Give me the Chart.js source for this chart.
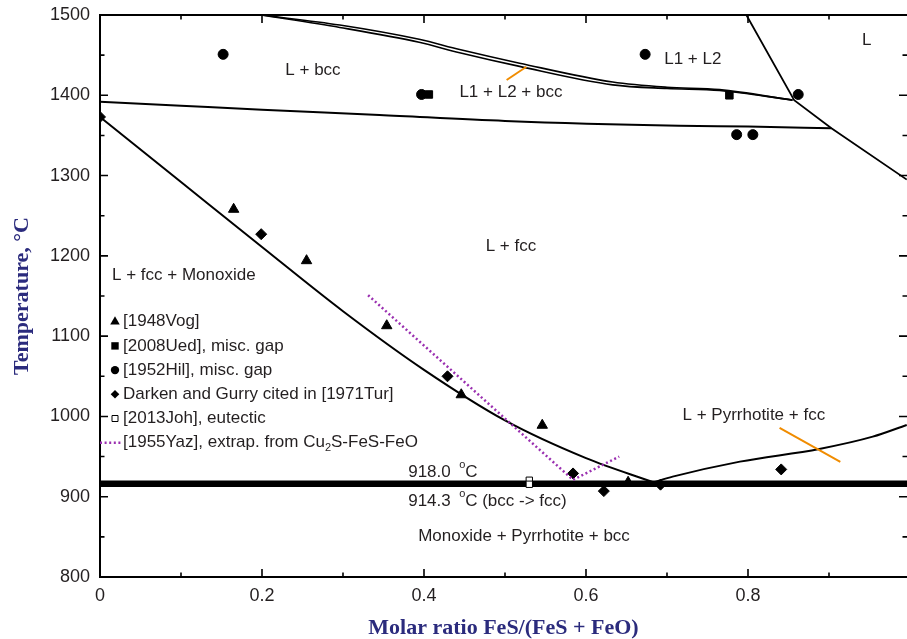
<!DOCTYPE html>
<html>
<head>
<meta charset="utf-8">
<title>FeS-FeO phase diagram</title>
<script src="https://cdn.jsdelivr.net/npm/chart.js@4.4.1/dist/chart.umd.min.js"></script>
<style>
  html, body { margin: 0; padding: 0; background: #fff; }
  canvas { display: block; }
</style>
</head>
<body>
<canvas id="diagram" width="907" height="639"></canvas>
<script>
// x = FeS/(FeS + FeO) molar ratio, T in degrees C

// fcc liquidus, from pure FeO side down to the eutectic
var fccLiqX = [0, 0.1, 0.2, 0.3, 0.4, 0.5, 0.6, 0.683];
var fccLiqT = [1373, 1292, 1211, 1131, 1058, 995, 948, 918];

// bcc -> fcc boundary under the liquid
var bccLineX = [0, 0.1, 0.2, 0.345, 0.5, 0.715, 0.8, 0.903];
var bccLineT = [1392, 1387, 1382, 1375.5, 1368, 1362, 1361, 1359];

// miscibility gap, the two close boundaries of L1 + L2 + bcc
var gapX = [0.199, 0.296, 0.394, 0.444, 0.518, 0.633, 0.7, 0.765, 0.855];
var gapUpperT = [1500, 1487.5, 1469.7, 1457, 1440, 1416.5, 1410, 1407, 1394];
var gapLowerT = [1500, 1484.5, 1466, 1453, 1436, 1413, 1408.5, 1406, 1394];

// liquid boundary on the FeS rich side
var rightX = [0.798, 0.857, 0.903, 0.996];
var rightT = [1500, 1394, 1359, 1295];

// pyrrhotite liquidus
var pyrrX = [0.683, 0.707, 0.79, 0.888, 0.954, 0.996];
var pyrrT = [918, 925, 943.7, 959.5, 974.8, 989.4];

// invariant lines
var eutecticX = [0, 0.9963];
var eutecticT = 918.0;
var bccFccT = 914.3;

// region pointers
var tieAX = [0.502, 0.5265];
var tieAT = [1419, 1435.5];
var tieBX = [0.839, 0.914];
var tieBT = [985.7, 943.3];

// experimental points
var vogX = [0.165, 0.255, 0.354, 0.446, 0.546, 0.652];
var vogT = [1258, 1194, 1113, 1027, 989, 918];
var uedX = [0.406, 0.777];
var uedT = [1401, 1400];
var hilX = [0.152, 0.397, 0.673, 0.786, 0.806, 0.862];
var hilT = [1451, 1401, 1451, 1351, 1351, 1401];
var dgX = [0, 0.199, 0.429, 0.584, 0.622, 0.692, 0.841];
var dgT = [1373, 1227, 1050, 929, 907, 915, 934];
var johX = [0.53, 0.53];
var johT = [920.5, 915.5];
var yazX = [0.331, 0.584, 0.641];
var yazT = [1151, 921, 950];

// axis ticks
var xTickValues = [0, 0.2, 0.4, 0.6, 0.8];
var xMinorValues = [0.1, 0.3, 0.5, 0.7, 0.9];
var yTickValues = [800, 900, 1000, 1100, 1200, 1300, 1400, 1500];
var yMinorValues = [850, 950, 1050, 1150, 1250, 1350, 1450];

var sansFont = "'Liberation Sans', Arial, sans-serif";
var serifFont = "'Liberation Serif', 'Times New Roman', serif";
var textColor = "#231f20";
var titleColor = "#2b2b7d";
var purple = "#9a2fb0";
var orange = "#f08c00";

function pts(xs, ts) {
  return xs.map(function (x, i) {
    return { x: x, y: Array.isArray(ts) ? ts[i] : ts };
  });
}

function curve(xs, ts, width, smooth) {
  return {
    data: pts(xs, ts),
    borderColor: "#000",
    borderWidth: width,
    pointRadius: 0,
    fill: false,
    cubicInterpolationMode: smooth ? "monotone" : "default",
    order: 5,
  };
}

function markers(xs, ts, style, radius, fill) {
  return {
    data: pts(xs, ts),
    showLine: false,
    pointStyle: style,
    pointRadius: radius,
    pointBackgroundColor: fill,
    pointBorderColor: "#000",
    pointBorderWidth: 1,
    order: 2,
  };
}

// no extra room around the plot, the frame is placed by layout padding only
function fixBox(scale) {
  scale.paddingLeft = 0;
  scale.paddingRight = 0;
  scale.paddingTop = 0;
  scale.paddingBottom = 0;
}

var regionLabels = [
  { text: "L + bcc", x: 0.2629, t: 1431.5, align: "center" },
  { text: "L1 + L2", x: 0.7319, t: 1445.2, align: "center" },
  { text: "L1 + L2 + bcc", x: 0.5073, t: 1404.1, align: "center" },
  { text: "L", x: 0.9467, t: 1468.9, align: "center" },
  { text: "L + fcc", x: 0.5073, t: 1212.3, align: "center" },
  { text: "L + fcc + Monoxide", x: 0.0148, t: 1175.3, align: "left" },
  { text: "L + Pyrrhotite + fcc", x: 0.8072, t: 1001.8, align: "center" },
  { text: "Monoxide + Pyrrhotite + bcc", x: 0.5235, t: 850.2, align: "center" },
];

var tempLabels = [
  { value: "918.0", rest: "C", x: 0.3805, t: 930.4 },
  { value: "914.3", rest: "C (bcc -> fcc)", x: 0.3805, t: 894.7 },
];

var legendItems = [
  { style: "triangle", text: "[1948Vog]" },
  { style: "rect", text: "[2008Ued], misc. gap" },
  { style: "circle", text: "[1952Hil], misc. gap" },
  { style: "rectRot", text: "Darken and Gurry cited in [1971Tur]" },
  { style: "openRect", text: "[2013Joh], eutectic" },
  { style: "dots", text: "[1955Yaz], extrap. from Cu", sub: "2", after: "S-FeS-FeO" },
];

function drawSymbol(ctx, style, x, y) {
  ctx.beginPath();
  ctx.fillStyle = "#000";
  ctx.strokeStyle = "#000";
  ctx.lineWidth = 1;
  if (style === "triangle") {
    var r = 5.5;
    ctx.moveTo(x, y - r);
    ctx.lineTo(x + r * 0.866, y + r / 2);
    ctx.lineTo(x - r * 0.866, y + r / 2);
    ctx.closePath();
    ctx.fill();
  } else if (style === "rect") {
    ctx.rect(x - 3.7, y - 3.7, 7.4, 7.4);
    ctx.fill();
  } else if (style === "circle") {
    ctx.arc(x, y, 4.2, 0, Math.PI * 2);
    ctx.fill();
  } else if (style === "rectRot") {
    ctx.moveTo(x, y - 4.3);
    ctx.lineTo(x + 4.3, y);
    ctx.lineTo(x, y + 4.3);
    ctx.lineTo(x - 4.3, y);
    ctx.closePath();
    ctx.fill();
  } else if (style === "openRect") {
    ctx.fillStyle = "#fff";
    ctx.rect(x - 3, y - 3, 6, 6);
    ctx.fill();
    ctx.stroke();
  } else if (style === "dots") {
    ctx.strokeStyle = purple;
    ctx.lineWidth = 2.5;
    ctx.setLineDash([2, 2.6]);
    ctx.moveTo(x - 15, y);
    ctx.lineTo(x + 7, y);
    ctx.stroke();
    ctx.setLineDash([]);
  }
}

// frame with inward ticks, region names and the legend
var decorations = {
  id: "decorations",
  afterDraw: function (chart) {
    var ctx = chart.ctx;
    var area = chart.chartArea;
    var xs = chart.scales.x;
    var ys = chart.scales.y;

    ctx.save();
    ctx.strokeStyle = "#000";
    ctx.lineWidth = 2;
    ctx.beginPath();
    ctx.moveTo(area.left - 1, area.top);
    ctx.lineTo(area.right, area.top);
    ctx.moveTo(area.left, area.top);
    ctx.lineTo(area.left, area.bottom);
    ctx.moveTo(area.left - 1, area.bottom);
    ctx.lineTo(area.right, area.bottom);
    ctx.stroke();

    ctx.lineWidth = 1.6;
    ctx.beginPath();
    function xTick(v, len) {
      var px = xs.getPixelForValue(v);
      if (px > area.right) return;
      ctx.moveTo(px, area.bottom);
      ctx.lineTo(px, area.bottom - len);
      ctx.moveTo(px, area.top);
      ctx.lineTo(px, area.top + len);
    }
    function yTick(v, len) {
      var py = ys.getPixelForValue(v);
      ctx.moveTo(area.left, py);
      ctx.lineTo(area.left + len, py);
      ctx.moveTo(area.right, py);
      ctx.lineTo(area.right - len, py);
    }
    xTickValues.forEach(function (v) { xTick(v, 8); });
    xMinorValues.forEach(function (v) { xTick(v, 4.5); });
    yTickValues.forEach(function (v) { yTick(v, 8); });
    yMinorValues.forEach(function (v) { yTick(v, 4.5); });
    ctx.stroke();

    ctx.fillStyle = textColor;
    ctx.textBaseline = "middle";
    ctx.font = "17px " + sansFont;
    regionLabels.forEach(function (lab) {
      ctx.textAlign = lab.align;
      ctx.fillText(lab.text, xs.getPixelForValue(lab.x), ys.getPixelForValue(lab.t));
    });

    ctx.textAlign = "left";
    tempLabels.forEach(function (lab) {
      var px = xs.getPixelForValue(lab.x);
      var py = ys.getPixelForValue(lab.t);
      ctx.font = "17px " + sansFont;
      ctx.fillText(lab.value, px, py);
      ctx.fillText(lab.rest, px + 57, py);
      ctx.font = "11px " + sansFont;
      ctx.fillText("o", px + 51, py - 7);
    });

    // legend
    var lx = area.left + 15;
    var ly = area.top + 306.7;
    legendItems.forEach(function (item, i) {
      var y = ly + i * 24.2;
      drawSymbol(ctx, item.style, lx, y);
      ctx.fillStyle = textColor;
      ctx.font = "17px " + sansFont;
      ctx.fillText(item.text, lx + 8, y);
      if (item.sub) {
        var w = ctx.measureText(item.text).width;
        ctx.font = "11px " + sansFont;
        ctx.fillText(item.sub, lx + 8 + w, y + 5);
        var sw = ctx.measureText(item.sub).width;
        ctx.font = "17px " + sansFont;
        ctx.fillText(item.after, lx + 8 + w + sw, y);
      }
    });
    ctx.restore();
  },
};

var datasets = [
  curve(fccLiqX, fccLiqT, 2, true),
  curve(bccLineX, bccLineT, 2, true),
  curve(gapX, gapUpperT, 1.6, true),
  curve(gapX, gapLowerT, 1.6, true),
  curve(rightX, rightT, 1.8, false),
  curve(pyrrX, pyrrT, 2, true),
  curve(eutecticX, eutecticT, 3.4, false),
  curve(eutecticX, bccFccT, 3.4, false),
  markers(vogX, vogT, "triangle", 6, "#000"),
  markers(uedX, uedT, "rect", 5.3, "#000"),
  markers(hilX, hilT, "circle", 5, "#000"),
  markers(dgX, dgT, "rectRot", 5.5, "#000"),
  markers(johX, johT, "rect", 4.5, "#fff"),
  {
    data: pts(yazX, yazT),
    borderColor: purple,
    borderWidth: 2.5,
    borderDash: [2, 2.6],
    pointRadius: 0,
    order: 0,
  },
  { data: pts(tieAX, tieAT), borderColor: orange, borderWidth: 2, pointRadius: 0, order: 0 },
  { data: pts(tieBX, tieBT), borderColor: orange, borderWidth: 2, pointRadius: 0, order: 0 },
];
datasets[12].order = 1;

new Chart(document.getElementById("diagram"), {
  type: "line",
  data: { datasets: datasets },
  options: {
    responsive: false,
    devicePixelRatio: 1,
    animation: false,
    layout: { autoPadding: false, padding: { top: 15, right: 0, bottom: 0, left: 0 } },
    plugins: { legend: { display: false }, tooltip: { enabled: false } },
    scales: {
      x: {
        type: "linear",
        min: 0,
        max: 0.9963,
        grid: { display: false, drawTicks: false },
        border: { display: false },
        afterBuildTicks: function (scale) {
          scale.ticks = xTickValues.map(function (v) { return { value: v }; });
        },
        afterFit: function (scale) {
          scale.height = 62;
          fixBox(scale);
        },
        ticks: {
          padding: 8,
          color: textColor,
          font: { family: sansFont, size: 18 },
          callback: function (v) { return String(+v.toFixed(1)); },
        },
        title: {
          display: true,
          text: "Molar ratio FeS/(FeS + FeO)",
          color: titleColor,
          font: { family: serifFont, size: 22, weight: "bold", lineHeight: 1 },
          padding: { top: 0, bottom: 0 },
        },
      },
      y: {
        type: "linear",
        min: 800,
        max: 1500,
        grid: { display: false, drawTicks: false },
        border: { display: false },
        afterBuildTicks: function (scale) {
          scale.ticks = yTickValues.map(function (v) { return { value: v }; });
        },
        afterFit: function (scale) {
          scale.width = 100;
          fixBox(scale);
        },
        ticks: {
          padding: 10,
          color: textColor,
          font: { family: sansFont, size: 18 },
          callback: function (v) { return String(v); },
        },
        title: {
          display: true,
          text: "Temperature, °C",
          color: titleColor,
          font: { family: serifFont, size: 22, weight: "bold" },
          padding: { top: 9, bottom: 0 },
        },
      },
    },
  },
  plugins: [decorations],
});
</script>
</body>
</html>
